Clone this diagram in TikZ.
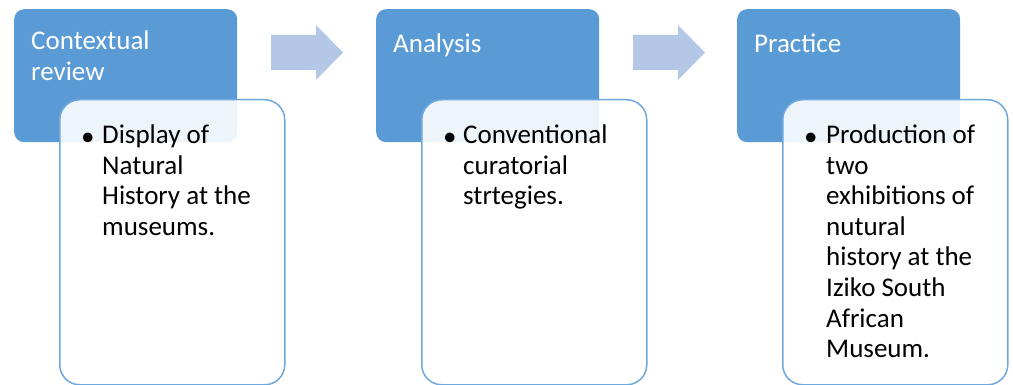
\documentclass[tikz,border=0pt]{standalone}
\usepackage{fontspec}
\setmainfont{Carlito}
\usepackage{xcolor}
\definecolor{stageBlue}{HTML}{5B9BD5}
\definecolor{edgeBlue}{HTML}{6FA8DC}
\definecolor{arrowBlue}{HTML}{B4C7E7}

\begin{document}
\begin{tikzpicture}[x=1pt, y=-1pt,
  stage/.style={fill=stageBlue, rounded corners=10pt, minimum width=223pt, minimum height=133pt, anchor=north west, inner sep=0pt},
  detail/.style={draw=edgeBlue, line width=1.5pt, fill=white, fill opacity=0.9, rounded corners=20pt, minimum width=225pt, minimum height=285pt, anchor=north west, inner sep=0pt},
  stageText/.style={text=white, font=\fontsize{27}{30.6}\selectfont, align=left, anchor=north west, inner sep=0pt, execute at begin node=\strut},
  itemText/.style={text=black, font=\fontsize{27}{30.6}\selectfont, align=left, anchor=north west, inner sep=0pt, execute at begin node=\strut},
  blockArrow/.style={fill=arrowBlue}
]
\useasboundingbox (0,0) rectangle (1013,385);

% stages
\node[stage] (ctx) at (14,9) {};
\node[stage] (ana) at (376,9) {};
\node[stage] (pra) at (737,9) {};

\node[stageText] (ctxT) at (31,30.5) {Contextual\\review};
\node[stageText] (anaT) at (393,30.5) {Analysis};
\node[stageText] (praT) at (754,30.5) {Practice};

% detail boxes
\node[detail] (ctxD) at (59,99) {};
\node[detail] (anaD) at (421,99) {};
\node[detail] (praD) at (782,99) {};

\node[itemText] (ctxB) at (81,123.5) {\textbullet};
\node[itemText] (ctxL) at (102,124.5) {Display of\\Natural\\History at the\\museums.};
\node[itemText] (anaB) at (443,123.5) {\textbullet};
\node[itemText] (anaL) at (463,124.5) {Conventional\\curatorial\\strtegies.};
\node[itemText] (praB) at (804,123.5) {\textbullet};
\node[itemText] (praL) at (826,124.5) {Production of\\two\\exhibitions of\\nutural\\history at the\\Iziko South\\African\\Museum.};

% arrows between stages
\foreach \ax in {271,633}
  \fill[blockArrow] (\ax,35) -- ++(45,0) -- ++(0,-10) -- ++(27,27.5) -- ++(-27,27.5) -- ++(0,-10) -- ++(-45,0) -- cycle;
\end{tikzpicture}
\end{document}
